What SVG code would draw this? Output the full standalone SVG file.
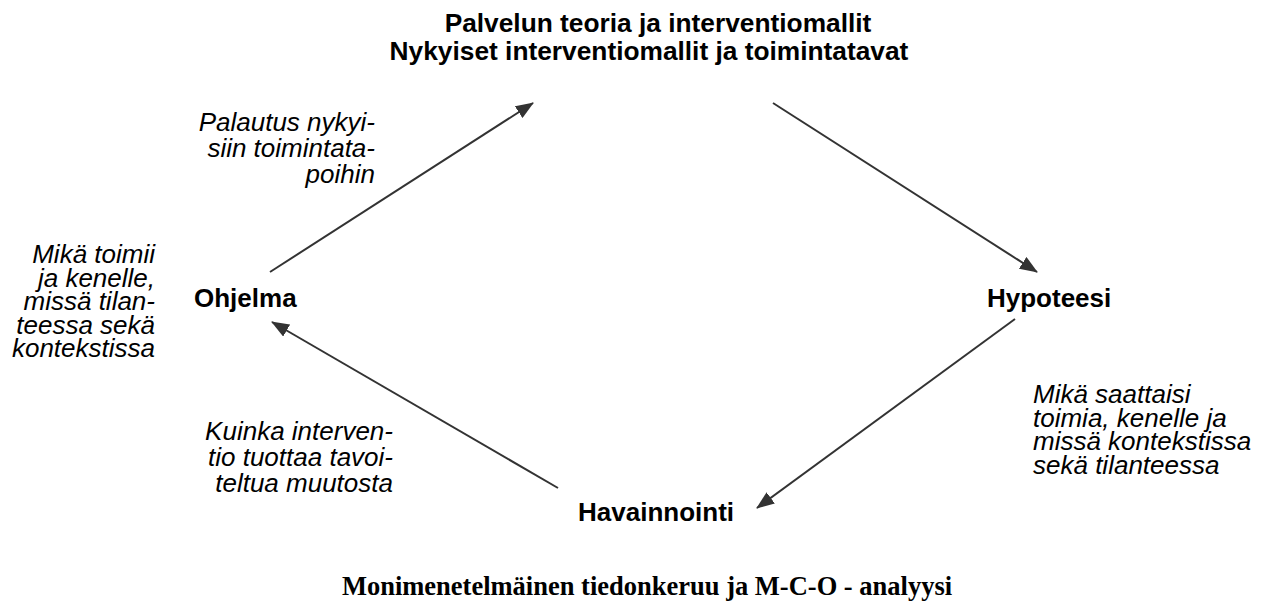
<svg xmlns="http://www.w3.org/2000/svg" width="1268" height="604" viewBox="0 0 1268 604">
<defs>
<style>
.node{font-family:"Liberation Sans",Arial,sans-serif;font-weight:bold;font-size:26px;fill:#000}
.title{font-family:"Liberation Sans",Arial,sans-serif;font-weight:bold;font-size:26.3px;fill:#000}
.note{font-family:"Liberation Sans",Arial,sans-serif;font-style:italic;font-size:26px;fill:#000}
.foot{font-family:"Liberation Serif","Times New Roman",serif;font-weight:bold;font-size:26.5px;fill:#000}
.conn{stroke:#333;stroke-width:2;fill:none;marker-end:url(#ah)}
</style>
<marker id="ah" viewBox="0 0 18 14" refX="17" refY="7" markerWidth="18" markerHeight="14" markerUnits="userSpaceOnUse" orient="auto">
<path d="M0,0 L18,7 L0,14 Z" fill="#333"/>
</marker>
</defs>
<rect width="1268" height="604" fill="#fff"/>
<g id="title">
<text class="title" x="658" y="32" text-anchor="middle">Palvelun teoria ja interventiomallit</text>
<text class="title" x="649" y="60" text-anchor="middle">Nykyiset interventiomallit ja toimintatavat</text>
</g>
<g id="ohjelma"><text class="node" x="194" y="307">Ohjelma</text></g>
<g id="hypoteesi"><text class="node" x="987" y="307">Hypoteesi</text></g>
<g id="havainnointi"><text class="node" x="578" y="521">Havainnointi</text></g>
<g id="footer"><text class="foot" x="647" y="595" text-anchor="middle">Monimenetelmäinen tiedonkeruu ja M-C-O - analyysi</text></g>
<g id="connectors">
<line class="conn" x1="270" y1="272" x2="533" y2="103"/>
<line class="conn" x1="773" y1="103" x2="1037" y2="272"/>
<line class="conn" x1="1015" y1="319" x2="757" y2="508"/>
<line class="conn" x1="558" y1="488" x2="272" y2="322"/>
</g>
<g id="label-palautus">
<text class="note" x="375" y="131" text-anchor="end">Palautus nykyi-</text>
<text class="note" x="375" y="157" text-anchor="end">siin toimintata-</text>
<text class="note" x="375" y="183" text-anchor="end">poihin</text>
</g>
<g id="label-mika-toimii">
<text class="note" x="155" y="263" text-anchor="end">Mikä toimii</text>
<text class="note" x="155" y="287" text-anchor="end">ja kenelle,</text>
<text class="note" x="155" y="310" text-anchor="end">missä tilan-</text>
<text class="note" x="155" y="334" text-anchor="end">teessa sekä</text>
<text class="note" x="155" y="357" text-anchor="end">kontekstissa</text>
</g>
<g id="label-kuinka">
<text class="note" x="393" y="440" text-anchor="end">Kuinka interven-</text>
<text class="note" x="393" y="466" text-anchor="end">tio tuottaa tavoi-</text>
<text class="note" x="393" y="492" text-anchor="end">teltua muutosta</text>
</g>
<g id="label-mika-saattaisi">
<text class="note" x="1033" y="403">Mikä saattaisi</text>
<text class="note" x="1033" y="427">toimia, kenelle ja</text>
<text class="note" x="1033" y="450">missä kontekstissa</text>
<text class="note" x="1033" y="474">sekä tilanteessa</text>
</g>
</svg>
